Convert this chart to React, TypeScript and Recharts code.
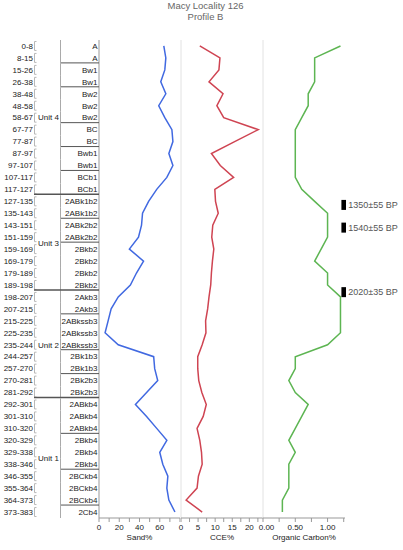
import React from 'react';
import { LineChart, Line, XAxis, YAxis, ReferenceLine, ReferenceDot } from 'recharts';

const depths = [
  '0-8', '8-15', '15-26', '26-38', '38-48', '48-58', '58-67', '67-77', '77-87', '87-97',
  '97-107', '107-117', '117-127', '127-135', '135-143', '143-151', '151-159', '159-169', '169-179', '179-189',
  '189-198', '198-207', '207-215', '215-225', '225-235', '235-244', '244-257', '257-270', '270-281', '281-292',
  '292-301', '301-310', '310-320', '320-329', '329-338', '338-346', '346-355', '355-364', '364-373', '373-383'
];

const horizons = [
  'A', 'A', 'Bw1', 'Bw1', 'Bw2', 'Bw2', 'Bw2', 'BC', 'BC', 'Bwb1',
  'Bwb1', 'BCb1', 'BCb1', '2ABk1b2', '2ABk1b2', '2ABk2b2', '2ABk2b2', '2Bkb2', '2Bkb2', '2Bkb2',
  '2Bkb2', '2Akb3', '2Akb3', '2ABkssb3', '2ABkssb3', '2ABkssb3', '2Bk1b3', '2Bk1b3', '2Bk2b3', '2Bk2b3',
  '2ABkb4', '2ABkb4', '2ABkb4', '2Bkb4', '2Bkb4', '2Bkb4', '2BCkb4', '2BCkb4', '2BCkb4', '2Cb4'
];

const units = [
  'Unit 4', 'Unit 4', 'Unit 4', 'Unit 4', 'Unit 4', 'Unit 4', 'Unit 4', 'Unit 4', 'Unit 4', 'Unit 4',
  'Unit 4', 'Unit 4', 'Unit 4', 'Unit 3', 'Unit 3', 'Unit 3', 'Unit 3', 'Unit 3', 'Unit 3', 'Unit 3',
  'Unit 3', 'Unit 2', 'Unit 2', 'Unit 2', 'Unit 2', 'Unit 2', 'Unit 2', 'Unit 2', 'Unit 2', 'Unit 2',
  'Unit 1', 'Unit 1', 'Unit 1', 'Unit 1', 'Unit 1', 'Unit 1', 'Unit 1', 'Unit 1', 'Unit 1', 'Unit 1'
];

const sand = [
  64, 66, 65, 61, 66, 59, 65, 72, 73, 69,
  73, 67, 57, 49, 43, 42, 39, 30, 44, 37,
  31, 19, 12, 9, 6, 19, 54, 55, 58, 47,
  36, 47, 57, 67, 60, 63, 68, 67, 69, 75
];

const cce = [
  5.5, 11.4, 11.1, 8.2, 12.3, 10.5, 12.5, 22.6, 15.7, 8.9,
  11.5, 15.4, 9.9, 10.1, 10.9, 9.3, 9.0, 9.6, 9.2, 8.9,
  8.7, 8.2, 7.8, 7.2, 7.3, 6.2, 4.9, 4.9, 5.2, 6.1,
  7.4, 6.5, 4.7, 5.5, 6.0, 6.2, 5.1, 4.7, 1.5, 6.2
];

const organicCarbon = [
  1.2, 0.8, 0.8, 0.8, 0.7, 0.7, 0.6, 0.5, 0.5, 0.5,
  0.5, 0.5, 0.6, 0.8, 1.0, 1.0, 1.0, 0.9, 0.8, 1.0,
  1.0, 1.2, 1.2, 1.2, 1.2, 1.0, 0.5, 0.5, 0.4, 0.5,
  0.7, 0.6, 0.5, 0.4, 0.5, 0.4, 0.4, 0.4, 0.3, 0.3
];

const sandTicks = [0, 10, 20, 30, 40, 50, 60, 70, 80];
const sandLabels = [0, 20, 40, 60];
const cceTicks = [0, 2.5, 5, 7.5, 10, 12.5, 15, 17.5, 20, 22.5];
const cceLabels = [0, 5, 10, 15, 20];
const ocTicks = [0, 0.25, 0.5, 0.75, 1, 1.25];
const ocLabels = [0, 0.5, 1];

// radiocarbon ages, positioned by (fractional) row
const dateRows = [13.3, 15.2, 20.6];
const dateLabels = ['1350±55 BP', '1540±55 BP', '2020±35 BP'];

const rows = depths.map((depth, i) => ({
  row: i,
  depth,
  sand: sand[i],
  cce: cce[i],
  oc: organicCarbon[i]
}));
const rowTicks = rows.map((r) => r.row);

const FONT = '"Liberation Sans", Arial, Helvetica, sans-serif';
const TOP = 40;
const PLOT_H = 478;
const AXIS_H = 27;
const CHART_H = TOP + PLOT_H + AXIS_H;
const ROW_H = PLOT_H / depths.length;
const Y_DOMAIN: [number, number] = [-0.5, depths.length - 0.5];
const PAD = 10; // room for the first tick label of the right-hand panels

// left table (depth / unit / horizon) drawn as the y-axis ticks of the sand panel
const TableTick = ({ y, payload }: any) => {
  const i = payload.value as number;
  const half = ROW_H / 2;
  const last = i === depths.length - 1;
  const endHorizon = !last && horizons[i + 1] !== horizons[i];
  const endUnit = !last && units[i + 1] !== units[i];
  const first = units.indexOf(units[i]);
  const lastOfUnit = units.lastIndexOf(units[i]);
  const mid = (first + lastOfUnit) / 2;
  const showUnit = i === Math.floor(mid);
  const unitY = y + (mid - Math.floor(mid)) * ROW_H;
  return (
    <g fontFamily={FONT} fontSize={8} fill="#222">
      <text x={33} y={y} dy="0.35em" textAnchor="end">{depths[i]}</text>
      <path
        d={`M36.5,${y - half + 1.5}H34.5V${y + half - 1.5}H36.5`}
        stroke="#b8b8b8"
        fill="none"
      />
      <line x1={60.5} x2={60.5} y1={y - half} y2={y + half} stroke="#aaa" />
      {showUnit && (
        <text x={38} y={unitY} dy="0.35em" textAnchor="start">{units[i]}</text>
      )}
      <text x={97.5} y={y} dy="0.35em" textAnchor="end">{horizons[i]}</text>
      {endHorizon && (
        <line
          x1={endUnit ? 34 : 61}
          x2={99}
          y1={y + half - 1}
          y2={y + half - 1}
          stroke="#555"
          strokeWidth={endUnit ? 1.5 : 1}
        />
      )}
    </g>
  );
};

// labels only on the major ticks; firstShift nudges the zero label off the neighbour panel
const makeXTick = (labels: number[], fmt: (v: number) => string, firstShift = 0) => ({ x, y, payload }: any) =>
  labels.includes(payload.value) ? (
    <text
      x={payload.value === 0 ? x + firstShift : x}
      y={y}
      dy="0.71em"
      textAnchor="middle"
      fontFamily={FONT}
      fontSize={8}
      fill="#222"
    >
      {fmt(payload.value)}
    </text>
  ) : (
    <g />
  );

const DateMarker = (label: string) => ({ cx, cy }: any) => (
  <g>
    <rect x={cx - 2.3} y={cy - 5} width={4.6} height={10} fill="#000" />
    <text x={cx + 4.5} y={cy} dy="0.35em" fontFamily={FONT} fontSize={9} fill="#555">
      {label}
    </text>
  </g>
);

const axisStyle = { stroke: '#999' };
const titleStyle = { fontSize: 8, fill: '#222', fontFamily: FONT };

const App: React.FC = () => {
  return (
    <div style={{ position: 'absolute', left: 0, top: 0, width: 403, height: 550, background: '#fff' }}>
      <div
        style={{
          position: 'absolute',
          left: 0,
          top: 1,
          width: 411,
          textAlign: 'center',
          fontFamily: FONT,
          fontSize: 9.5,
          lineHeight: '10.5px',
          color: '#666'
        }}
      >
        <div>Macy Locality 126</div>
        <div>Profile B</div>
      </div>

      {/* Sand% panel with the horizon table */}
      <div style={{ position: 'absolute', left: 0, top: 0 }}>
        <LineChart
          width={180}
          height={CHART_H}
          data={rows}
          layout="vertical"
          margin={{ top: TOP, right: 0, bottom: 0, left: 0 }}
        >
          <XAxis
            type="number"
            domain={[0, 80]}
            ticks={sandTicks}
            interval={0}
            tickSize={4}
            tick={makeXTick(sandLabels, (v) => String(v))}
            tickLine={axisStyle}
            axisLine={axisStyle}
            height={AXIS_H}
            label={{ value: 'Sand%', position: 'insideBottom', offset: 5, ...titleStyle }}
          />
          <YAxis
            type="number"
            dataKey="row"
            domain={Y_DOMAIN}
            ticks={rowTicks}
            interval={0}
            width={99}
            tickLine={false}
            axisLine={{ stroke: '#999' }}
            tick={<TableTick />}
          />
          <Line dataKey="sand" stroke="#4169e1" strokeWidth={1.5} dot={false} isAnimationActive={false} />
        </LineChart>
      </div>

      {/* CCE% panel */}
      <div style={{ position: 'absolute', left: 181 - PAD, top: 0 }}>
        <LineChart
          width={82 + PAD}
          height={CHART_H}
          data={rows}
          layout="vertical"
          margin={{ top: TOP, right: 0, bottom: 0, left: PAD }}
        >
          <XAxis
            type="number"
            domain={[0, 24]}
            ticks={cceTicks}
            interval={0}
            tickSize={4}
            tick={makeXTick(cceLabels, (v) => String(v))}
            tickLine={axisStyle}
            axisLine={axisStyle}
            height={AXIS_H}
            label={{ value: 'CCE%', position: 'insideBottom', offset: 5, ...titleStyle }}
          />
          <YAxis type="number" dataKey="row" domain={Y_DOMAIN} hide />
          <ReferenceLine x={0} stroke="#e2e2e2" />
          <Line dataKey="cce" stroke="#cf4452" strokeWidth={1.5} dot={false} isAnimationActive={false} />
        </LineChart>
      </div>

      {/* Organic Carbon% panel with radiocarbon ages */}
      <div style={{ position: 'absolute', left: 263 - PAD, top: 0 }}>
        <LineChart
          width={140 + PAD}
          height={CHART_H}
          data={rows}
          layout="vertical"
          margin={{ top: TOP, right: 58, bottom: 0, left: PAD }}
        >
          <XAxis
            type="number"
            domain={[0, 1.27]}
            ticks={ocTicks}
            interval={0}
            tickSize={4}
            tick={makeXTick(ocLabels, (v) => v.toFixed(2), 3.5)}
            tickLine={axisStyle}
            axisLine={axisStyle}
            height={AXIS_H}
            label={{ value: 'Organic Carbon%', position: 'insideBottom', offset: 5, ...titleStyle }}
          />
          <YAxis type="number" dataKey="row" domain={Y_DOMAIN} hide />
          <ReferenceLine x={0} stroke="#e2e2e2" />
          <Line dataKey="oc" stroke="#5db552" strokeWidth={1.5} dot={false} isAnimationActive={false} />
          {dateRows.map((r, k) => (
            <ReferenceDot
              key={k}
              x={1.25}
              y={r}
              ifOverflow="visible"
              shape={DateMarker(dateLabels[k])}
            />
          ))}
        </LineChart>
      </div>
    </div>
  );
};

export default App;
